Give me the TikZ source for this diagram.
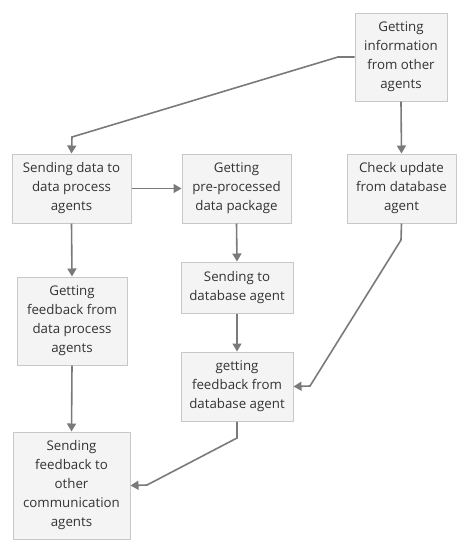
\documentclass[tikz,border=0pt]{standalone}
\usepackage{fontspec}
\setmainfont{Open Sans}
\usetikzlibrary{arrows.meta}
\definecolor{boxfill}{HTML}{F4F4F4}
\definecolor{boxline}{HTML}{C8C8C8}
\definecolor{conn}{HTML}{7A7A7A}
\begin{document}
\begin{tikzpicture}[x=1pt,y=-1pt,
  box/.style={draw=boxline,fill=boxfill,line width=1pt,inner sep=0pt,align=center,
    font=\fontsize{13.3}{19}\selectfont,text=black!80},
  conn/.style={draw=conn,line width=1.6pt,-{Triangle[length=8pt,width=9pt]}}]
\useasboundingbox (0,0) rectangle (468,550);
\node[box,minimum width=92pt,minimum height=88pt] (A) at (401,57) {Getting\\information\\from other\\agents};
\node[box,minimum width=119pt,minimum height=69pt] (B) at (71.5,188.5) {Sending data to\\data process\\agents};
\node[box,minimum width=109pt,minimum height=69pt] (C) at (236.5,188.5) {Getting\\pre-processed\\data package};
\node[box,minimum width=109pt,minimum height=69pt] (D) at (401.5,188.5) {Check update\\from database\\agent};
\node[box,minimum width=110pt,minimum height=88pt] (E) at (72,321) {Getting\\feedback from\\data process\\agents};
\node[box,minimum width=112pt,minimum height=51pt] (F) at (237,287.5) {Sending to\\database agent};
\node[box,minimum width=112pt,minimum height=69pt] (G) at (237,386.5) {getting\\feedback from\\database agent};
\node[box,minimum width=117pt,minimum height=107pt] (H) at (71.5,485.5) {Sending\\feedback to\\other\\communication\\agents};
\coordinate (a1) at (338,57);
\coordinate (a2) at (72,137);
\coordinate (d1) at (401,240);
\coordinate (d2) at (310,386);
\coordinate (g1) at (237,438);
\coordinate (g2) at (147,485);
\draw[conn] (A.west) -- (a1) -- (a2) -- (B.north);
\draw[conn] (A.south) -- (D.north);
\draw[conn] (B.east) -- (C.west);
\draw[conn] (C.south) -- (F.north);
\draw[conn] (F.south) -- (G.north);
\draw[conn] (B.south) -- (E.north);
\draw[conn] (E.south) -- (H.north);
\draw[conn] (D.south) -- (d1) -- (d2) -- (G.east);
\draw[conn] (G.south) -- (g1) -- (g2) -- (H.east);
\end{tikzpicture}
\end{document}
